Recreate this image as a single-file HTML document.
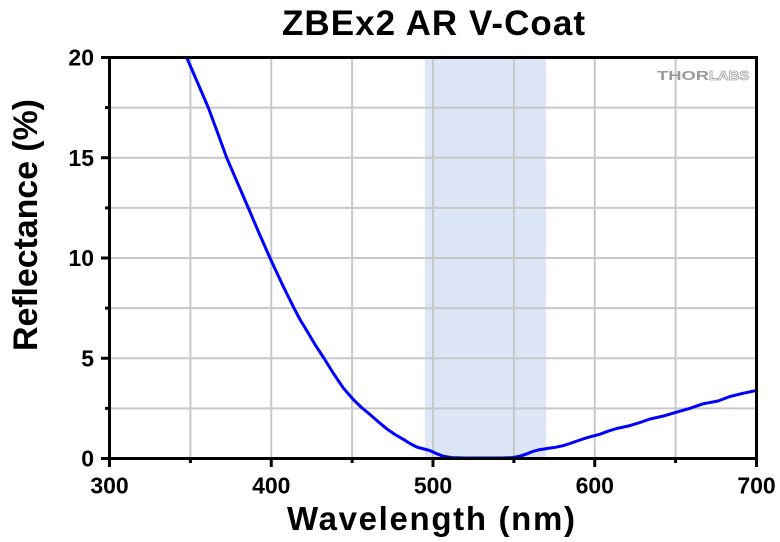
<!DOCTYPE html>
<html>
<head>
<meta charset="utf-8">
<style>
html,body{margin:0;padding:0;background:#fff;}
svg{display:block;}
text{font-family:"Liberation Sans",Arial,sans-serif;font-weight:bold;fill:#000;}
</style>
</head>
<body>
<svg width="780" height="542" viewBox="0 0 780 542" xmlns="http://www.w3.org/2000/svg">
<defs>
<clipPath id="pa"><rect x="109.5" y="57.5" width="647" height="401"/></clipPath>
</defs>
<rect x="0" y="0" width="780" height="542" fill="#fff"/>
<!-- shaded band 495-570 nm -->
<rect x="424.9" y="57.5" width="121.3" height="401" fill="#dde6f7"/>
<!-- grid -->
<g stroke="#c8c8c8" stroke-width="2">
<line x1="190.4" y1="57.5" x2="190.4" y2="458.5"/>
<line x1="271.25" y1="57.5" x2="271.25" y2="458.5"/>
<line x1="352.1" y1="57.5" x2="352.1" y2="458.5"/>
<line x1="433" y1="57.5" x2="433" y2="458.5"/>
<line x1="513.9" y1="57.5" x2="513.9" y2="458.5"/>
<line x1="594.75" y1="57.5" x2="594.75" y2="458.5"/>
<line x1="675.6" y1="57.5" x2="675.6" y2="458.5"/>
<line x1="109.5" y1="408.4" x2="756.5" y2="408.4"/>
<line x1="109.5" y1="358.25" x2="756.5" y2="358.25"/>
<line x1="109.5" y1="308.1" x2="756.5" y2="308.1"/>
<line x1="109.5" y1="258" x2="756.5" y2="258"/>
<line x1="109.5" y1="207.9" x2="756.5" y2="207.9"/>
<line x1="109.5" y1="157.75" x2="756.5" y2="157.75"/>
<line x1="109.5" y1="107.6" x2="756.5" y2="107.6"/>
</g>
<!-- logo -->
<text x="657" y="80" font-size="12.5" textLength="52" lengthAdjust="spacingAndGlyphs" style="fill:#9a9a9a;font-weight:900;">THOR</text>
<text x="709" y="80" font-size="12.5" textLength="40" lengthAdjust="spacingAndGlyphs" style="fill:#fff;stroke:#a8a8a8;stroke-width:0.8;font-weight:900;">LABS</text>
<!-- curve -->
<polyline clip-path="url(#pa)" fill="none" stroke="#0000ff" stroke-width="3" stroke-linejoin="round" points="
186.7,57.5 197.5,82.5 208.3,107.6 217.5,132.5 226.7,157.75 237.5,182.8 248.3,207.9 259,233 270,258
276.5,272 283.3,286.5 289,298 294,308.1 300,319.5 307,331 315,344.5 324,358.25 333.5,373.5 343.3,388
353.3,399.5 361.5,407.5 370,414.5 378,421.5 386.7,428.8 395,434.5 403.3,439.3 410,443.5 416.7,447
424,449 430,450.6 436,453.4 443,456.2 452,457.6 465,458 500,458 512,457.6 520,456.2 527,453.8 533,451.4
540,449.6 548,448.4 556,447.2 563,445.7 570,443.5 577,441 587,437.7 600,434.2 608,431.2 616.7,428.5
630,425.6 640,422.5 650,419 662,416.4 676,412.3 690,408.3 703,403.8 718,401 730,396.5 743,393.3 756.5,390.5"/>
<!-- frame -->
<rect x="109.5" y="57.5" width="647" height="401" fill="none" stroke="#000" stroke-width="3"/>
<!-- ticks -->
<g stroke="#000" stroke-width="3">
<line x1="101" y1="458.5" x2="109.5" y2="458.5"/>
<line x1="101" y1="358.25" x2="109.5" y2="358.25"/>
<line x1="101" y1="258" x2="109.5" y2="258"/>
<line x1="101" y1="157.75" x2="109.5" y2="157.75"/>
<line x1="101" y1="57.5" x2="109.5" y2="57.5"/>
<line x1="105" y1="408.4" x2="109.5" y2="408.4"/>
<line x1="105" y1="308.1" x2="109.5" y2="308.1"/>
<line x1="105" y1="207.9" x2="109.5" y2="207.9"/>
<line x1="105" y1="107.6" x2="109.5" y2="107.6"/>
<line x1="109.5" y1="458.5" x2="109.5" y2="467"/>
<line x1="271.25" y1="458.5" x2="271.25" y2="467"/>
<line x1="433" y1="458.5" x2="433" y2="467"/>
<line x1="594.75" y1="458.5" x2="594.75" y2="467"/>
<line x1="756.5" y1="458.5" x2="756.5" y2="467"/>
<line x1="190.4" y1="458.5" x2="190.4" y2="463"/>
<line x1="352.1" y1="458.5" x2="352.1" y2="463"/>
<line x1="513.9" y1="458.5" x2="513.9" y2="463"/>
<line x1="675.6" y1="458.5" x2="675.6" y2="463"/>
</g>
<!-- y tick labels -->
<g font-size="23" text-anchor="end">
<text x="94" y="466.5">0</text>
<text x="94" y="366.3">5</text>
<text x="94" y="266">10</text>
<text x="94" y="165.8">15</text>
<text x="94" y="65.5">20</text>
</g>
<!-- x tick labels -->
<g font-size="23" text-anchor="middle">
<text x="109.5" y="493.5">300</text>
<text x="271.25" y="493.5">400</text>
<text x="433" y="493.5">500</text>
<text x="594.75" y="493.5">600</text>
<text x="756.5" y="493.5">700</text>
</g>
<!-- titles -->
<text x="282" y="35" font-size="35" textLength="303" lengthAdjust="spacing">ZBEx2 AR V-Coat</text>
<text x="287" y="530" font-size="33" textLength="288" lengthAdjust="spacing">Wavelength (nm)</text>
<text transform="translate(37,351) rotate(-90)" x="0" y="0" font-size="34" textLength="252" lengthAdjust="spacing">Reflectance (%)</text>
</svg>
</body>
</html>
